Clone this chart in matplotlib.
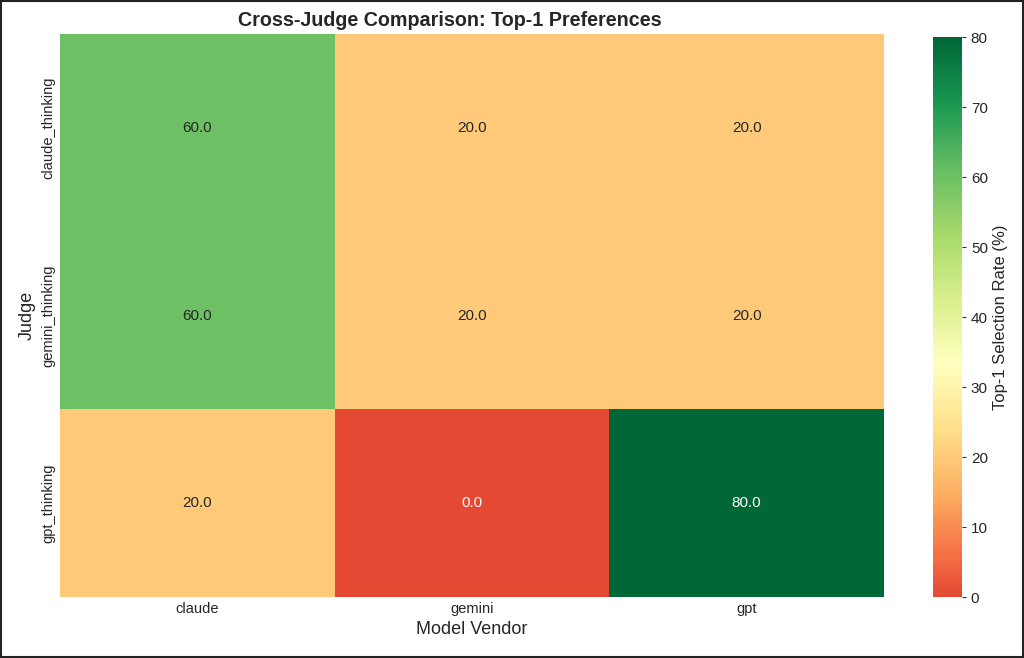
import matplotlib
matplotlib.use("Agg")
import matplotlib.pyplot as plt
import seaborn as sns
import numpy as np
import pandas as pd
from matplotlib.patches import Rectangle

judges = ["claude_thinking", "gemini_thinking", "gpt_thinking"]
vendors = ["claude", "gemini", "gpt"]
claude_col = [60.0, 60.0, 20.0]
gemini_col = [20.0, 20.0, 0.0]
gpt_col = [20.0, 20.0, 80.0]

sns.set_theme(style="whitegrid")
plt.rcParams['font.family'] = ['Liberation Sans', 'DejaVu Sans']

df = pd.DataFrame({"claude": claude_col, "gemini": gemini_col, "gpt": gpt_col}, index=judges)

fig = plt.figure(figsize=(10.24, 6.58), dpi=100)
ax = fig.add_axes([0.0586, 0.0927, 0.8047, 0.8556])
cax = fig.add_axes([0.911, 0.0927, 0.0283, 0.8510])

sns.heatmap(df, annot=True, fmt=".1f", cmap="RdYlGn", vmin=0, vmax=80, center=100 / 3,
            ax=ax, cbar_ax=cax, annot_kws={"fontsize": 11},
            cbar_kws={"label": "Top-1 Selection Rate (%)"})
ax.set_title("Cross-Judge Comparison: Top-1 Preferences", fontsize=14.2, fontweight="bold",
             pad=6, x=0.473)
ax.set_xlabel("Model Vendor", fontsize=13)
ax.set_ylabel("Judge", fontsize=13)
ax.tick_params(axis="both", labelsize=10.5, length=0)
cax.tick_params(labelsize=11, length=3, width=0.8, color="#333333")
cax.yaxis.label.set_size(12)

fig.patches.append(Rectangle((0.001, 0.001), 0.998, 0.997, transform=fig.transFigure,
                             fill=False, edgecolor="#222222", linewidth=1.5))

fig.savefig("out.png", dpi=100)
